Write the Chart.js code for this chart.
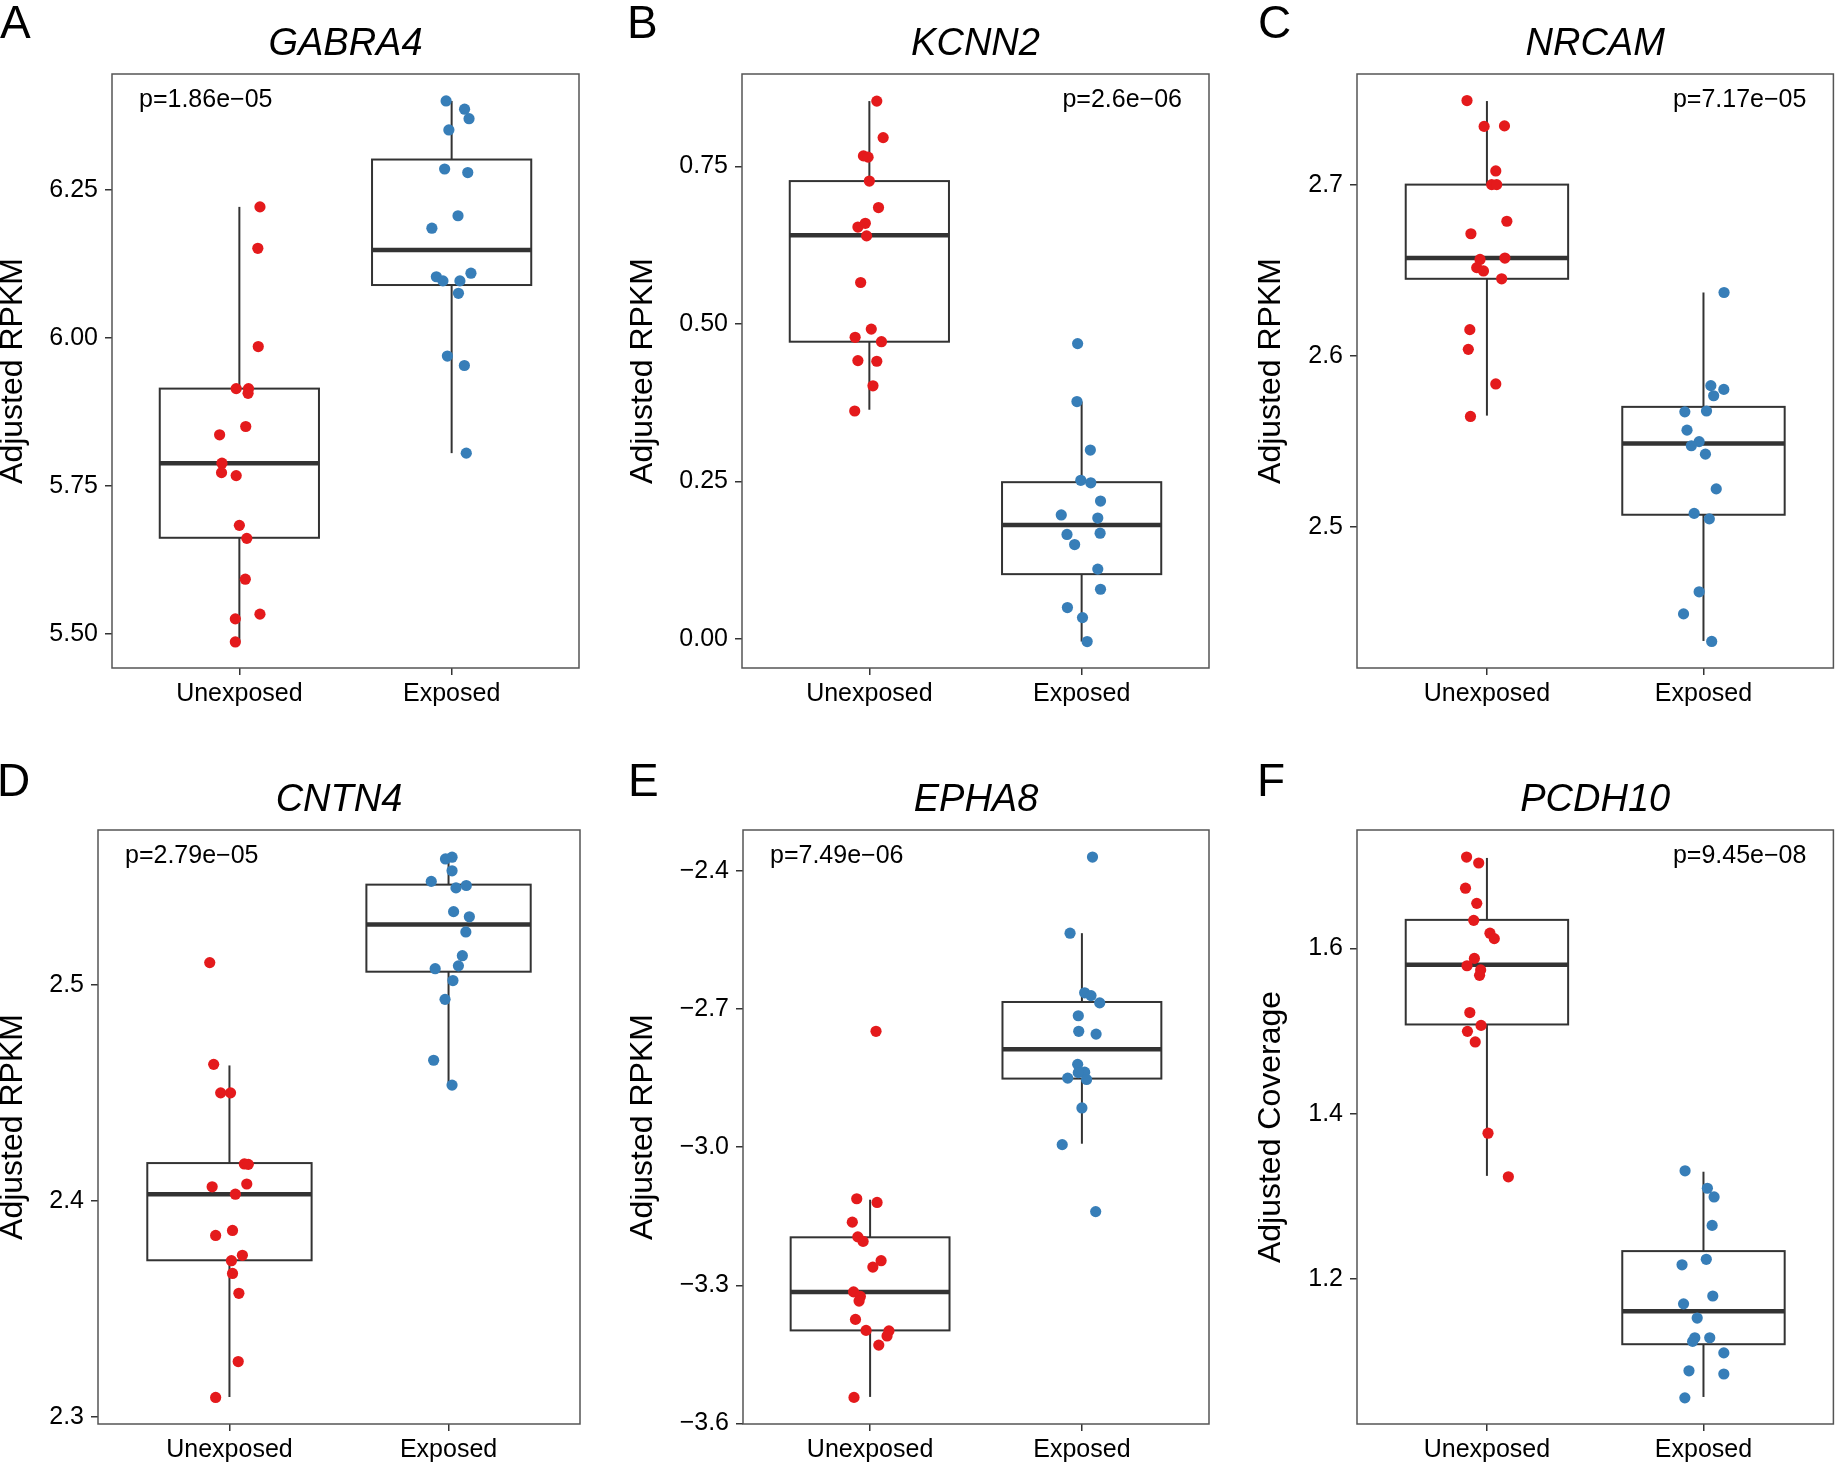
<!DOCTYPE html>
<html lang="en">
<head>
<meta charset="UTF-8" />
<title>Adjusted expression by exposure</title>
<script src="https://cdn.jsdelivr.net/npm/chart.js"></script>
<style>
  body { margin: 0; background: #fff; }
  #page { position: relative; width: 1839px; height: 1463px; overflow: hidden; }
  canvas { position: absolute; }
</style>
</head>
<body>
<div id="page">
  <canvas id="panel-0" width="613" height="731" style="left:0;top:0"></canvas>
  <canvas id="panel-1" width="613" height="731" style="left:630px;top:0"></canvas>
  <canvas id="panel-2" width="581" height="731" style="left:1258px;top:0"></canvas>
  <canvas id="panel-3" width="613" height="732" style="left:0;top:731px"></canvas>
  <canvas id="panel-4" width="613" height="732" style="left:630px;top:731px"></canvas>
  <canvas id="panel-5" width="581" height="732" style="left:1258px;top:731px"></canvas>
</div>
<script>
// groups on the x axis
const groups = ["Unexposed", "Exposed"];
const genes = ["GABRA4", "KCNN2", "NRCAM", "CNTN4", "EPHA8", "PCDH10"];
const letters = ["A", "B", "C", "D", "E", "F"];
const pValues = ["p=1.86e\u221205", "p=2.6e\u221206", "p=7.17e\u221205", "p=2.79e\u221205", "p=7.49e\u221206", "p=9.45e\u221208"];
const pSide = ["left", "right", "right", "left", "left", "right"];
const yTitles = ["Adjusted RPKM", "Adjusted RPKM", "Adjusted RPKM", "Adjusted RPKM", "Adjusted RPKM", "Adjusted Coverage"];

// y axis limits and ticks
const yMin = [5.442, -0.046, 2.4177, 2.2968, -3.601, 1.0247];
const yMax = [6.4455, 0.897, 2.7646, 2.5718, -2.3114, 1.7431];
const yTicks = [
  [5.5, 5.75, 6.0, 6.25],
  [0, 0.25, 0.5, 0.75],
  [2.5, 2.6, 2.7],
  [2.3, 2.4, 2.5],
  [-3.6, -3.3, -3.0, -2.7, -2.4],
  [1.2, 1.4, 1.6]
];
const yTickLabels = [
  ["5.50", "5.75", "6.00", "6.25"],
  ["0.00", "0.25", "0.50", "0.75"],
  ["2.5", "2.6", "2.7"],
  ["2.3", "2.4", "2.5"],
  ["\u22123.6", "\u22123.3", "\u22123.0", "\u22122.7", "\u22122.4"],
  ["1.2", "1.4", "1.6"]
];

// box stats per group: [lower whisker, q1, median, q3, upper whisker]
const gabra4Box = [[5.486, 5.662, 5.788, 5.914, 6.221], [5.805, 6.089, 6.148, 6.301, 6.400]];
const kcnn2Box = [[0.364, 0.472, 0.641, 0.727, 0.854], [-0.004, 0.103, 0.181, 0.249, 0.377]];
const nrcamBox = [[2.5651, 2.6450, 2.6571, 2.7000, 2.7488], [2.4335, 2.5072, 2.5488, 2.5702, 2.6370]];
const cntn4Box = [[2.3093, 2.3726, 2.4032, 2.4176, 2.4628], [2.4537, 2.5062, 2.5280, 2.5465, 2.5590]];
const epha8Box = [[-3.5422, -3.3978, -3.3142, -3.1957, -3.114], [-2.9925, -2.8511, -2.7874, -2.6848, -2.5354]];
const pcdh10Box = [[1.3248, 1.5079, 1.58, 1.6344, 1.7093], [1.0574, 1.1212, 1.1612, 1.2338, 1.3298]];

// jittered points [x, value]
const gabra4Unexposed = [[1.097,6.221],[1.087,6.151],[1.089,5.985],[0.985,5.914],[1.043,5.914],[1.041,5.906],[1.030,5.850],[0.907,5.836],[0.918,5.788],[0.916,5.772],[0.985,5.767],[1.000,5.683],[1.035,5.661],[1.028,5.592],[0.981,5.525],[1.097,5.533],[0.981,5.486]];
const gabra4Exposed = [[1.974,6.400],[2.061,6.386],[2.082,6.370],[1.987,6.351],[1.967,6.285],[2.076,6.279],[2.030,6.206],[1.907,6.185],[1.928,6.103],[1.959,6.096],[2.039,6.096],[2.091,6.109],[2.032,6.075],[1.980,5.969],[2.060,5.953],[2.069,5.805]];
const kcnn2Unexposed = [[1.035,0.854],[1.065,0.796],[0.972,0.767],[0.994,0.765],[1.000,0.727],[1.043,0.685],[0.946,0.654],[0.981,0.660],[0.987,0.640],[0.959,0.566],[1.009,0.492],[0.933,0.479],[1.057,0.472],[0.946,0.442],[1.035,0.441],[1.017,0.402],[0.931,0.362]];
const kcnn2Exposed = [[1.981,0.469],[1.978,0.377],[2.041,0.300],[1.996,0.252],[2.043,0.248],[2.089,0.219],[1.904,0.197],[2.076,0.192],[1.931,0.166],[2.087,0.168],[1.967,0.150],[2.076,0.111],[2.089,0.079],[1.933,0.050],[2.004,0.034],[2.026,-0.004]];
const nrcamUnexposed = [[0.908,2.7491],[0.987,2.7340],[1.081,2.7343],[1.041,2.7080],[1.022,2.7000],[1.045,2.7000],[1.092,2.6786],[0.926,2.6713],[0.968,2.6563],[1.083,2.6571],[0.953,2.6515],[0.984,2.6496],[1.068,2.6450],[0.921,2.6153],[0.914,2.6038],[1.041,2.5836],[0.924,2.5646]];
const nrcamExposed = [[2.095,2.6370],[2.034,2.5826],[2.094,2.5804],[2.047,2.5767],[1.914,2.5673],[2.014,2.5678],[1.924,2.5566],[1.980,2.5499],[1.944,2.5475],[2.009,2.5426],[2.059,2.5223],[1.957,2.5080],[2.027,2.5048],[1.980,2.4622],[1.908,2.4493],[2.038,2.4332]];
const cntn4Unexposed = [[0.910,2.5104],[0.928,2.4633],[0.960,2.4501],[1.005,2.4501],[1.068,2.4172],[1.086,2.4170],[0.921,2.4066],[1.079,2.4079],[1.027,2.4032],[1.014,2.3864],[0.937,2.3841],[1.059,2.3749],[1.009,2.3724],[1.014,2.3665],[1.043,2.3573],[1.040,2.3257],[0.937,2.3091]];
const cntn4Exposed = [[2.016,2.5592],[1.986,2.5584],[2.016,2.5529],[1.921,2.5480],[2.034,2.5450],[2.081,2.5461],[2.023,2.5340],[2.095,2.5316],[2.079,2.5246],[2.063,2.5136],[2.045,2.5089],[1.939,2.5076],[2.020,2.5021],[1.984,2.4934],[1.932,2.4652],[2.016,2.4537]];
const epha8Unexposed = [[1.028,-2.7485],[0.937,-3.112],[1.033,-3.120],[0.916,-3.1628],[0.942,-3.1947],[0.967,-3.2046],[1.052,-3.2464],[1.013,-3.2604],[0.922,-3.3142],[0.954,-3.3241],[0.948,-3.3341],[0.931,-3.3739],[0.981,-3.3978],[1.089,-3.3988],[1.080,-3.4098],[1.041,-3.4297],[0.924,-3.5432]];
const epha8Exposed = [[2.050,-2.3701],[1.944,-2.5354],[2.013,-2.6649],[2.043,-2.6709],[2.084,-2.6868],[1.983,-2.7147],[1.985,-2.7485],[2.067,-2.7545],[1.980,-2.8202],[2.013,-2.8372],[1.983,-2.8382],[1.933,-2.8501],[2.022,-2.8531],[2.000,-2.9148],[1.907,-2.9945],[2.065,-3.1399]];
const pcdh10Unexposed = [[0.906,1.7104],[0.962,1.7032],[0.901,1.6727],[0.953,1.6544],[0.939,1.6338],[1.014,1.6183],[1.034,1.6117],[0.942,1.5878],[0.908,1.5789],[0.971,1.5739],[0.966,1.5673],[0.921,1.5223],[0.973,1.5068],[0.910,1.4996],[0.946,1.4868],[1.005,1.3764],[1.099,1.3237]];
const pcdh10Exposed = [[1.915,1.3309],[2.018,1.3098],[2.049,1.2993],[2.040,1.2649],[2.013,1.2239],[1.901,1.2172],[2.043,1.1795],[1.908,1.1700],[1.971,1.1528],[1.960,1.1290],[1.950,1.1246],[2.029,1.1290],[2.094,1.1107],[1.933,1.0890],[2.094,1.0852],[1.914,1.0563]];

const boxes = [gabra4Box, kcnn2Box, nrcamBox, cntn4Box, epha8Box, pcdh10Box];
const unexposedPts = [gabra4Unexposed, kcnn2Unexposed, nrcamUnexposed, cntn4Unexposed, epha8Unexposed, pcdh10Unexposed];
const exposedPts = [gabra4Exposed, kcnn2Exposed, nrcamExposed, cntn4Exposed, epha8Exposed, pcdh10Exposed];

// panel geometry inside each canvas
const layout = [
  { yWidth: 112, padRight: 34, padTop: 74, xHeight: 63, letterX: 0, letterY: 37.5 },
  { yWidth: 112, padRight: 34, padTop: 74, xHeight: 63, letterX: -3, letterY: 37.5 },
  { yWidth: 99, padRight: 1, padTop: 74, xHeight: 63, letterX: 0, letterY: 37.5 },
  { yWidth: 98, padRight: 33, padTop: 99, xHeight: 39, letterX: -3, letterY: 64.5 },
  { yWidth: 113, padRight: 34, padTop: 99, xHeight: 39, letterX: -2, letterY: 64.5 },
  { yWidth: 99, padRight: 1, padTop: 99, xHeight: 39, letterX: -1, letterY: 64.5 }
];

const RED = "#E41A1C";
const BLUE = "#377EB8";
const FONT = "'Liberation Sans', Arial, Helvetica, sans-serif";
Chart.defaults.font.family = FONT;
Chart.defaults.color = "#000";

function line(ctx, x0, y0, x1, y1) {
  ctx.beginPath();
  ctx.moveTo(x0, y0);
  ctx.lineTo(x1, y1);
  ctx.stroke();
}

// boxplots, panel frame and panel texts
const boxPlugin = {
  id: "boxes",
  beforeDatasetsDraw(chart, args, opts) {
    const { ctx, chartArea: a, scales: { x, y } } = chart;
    ctx.save();
    ctx.strokeStyle = "#333";
    opts.stats.forEach((s, i) => {
      const cx = x.getPixelForValue(i + 1);
      const x0 = x.getPixelForValue(i + 1 - 0.375);
      const x1 = x.getPixelForValue(i + 1 + 0.375);
      const [lo, q1, med, q3, hi] = s.map(v => y.getPixelForValue(v));
      ctx.lineWidth = 2;
      line(ctx, cx, hi, cx, q3);
      line(ctx, cx, q1, cx, lo);
      ctx.fillStyle = "#fff";
      ctx.fillRect(x0, q3, x1 - x0, q1 - q3);
      ctx.strokeRect(x0, q3, x1 - x0, q1 - q3);
      ctx.lineWidth = 4.5;
      line(ctx, x0, med, x1, med);
    });
    ctx.strokeStyle = "#555";
    ctx.lineWidth = 1.5;
    ctx.strokeRect(a.left, a.top, a.right - a.left, a.bottom - a.top);
    ctx.restore();
  },
  afterDraw(chart, args, opts) {
    const { ctx, chartArea: a } = chart;
    ctx.save();
    ctx.fillStyle = "#000";
    ctx.textBaseline = "alphabetic";
    ctx.font = "italic 38px " + FONT;
    ctx.textAlign = "center";
    ctx.fillText(opts.title, (a.left + a.right) / 2, a.top - 19);
    ctx.font = "25px " + FONT;
    if (opts.pSide === "left") {
      ctx.textAlign = "left";
      ctx.fillText(opts.p, a.left + 27, a.top + 33);
    } else {
      ctx.textAlign = "right";
      ctx.fillText(opts.p, a.right - 27, a.top + 33);
    }
    ctx.font = "46px " + FONT;
    ctx.textAlign = "left";
    ctx.fillText(opts.letter, opts.letterX, opts.letterY);
    ctx.restore();
  }
};

genes.forEach((gene, k) => {
  const L = layout[k];
  const tickGrid = { drawOnChartArea: false, drawTicks: true, tickLength: 7, color: "#333", lineWidth: 1.5 };
  new Chart(document.getElementById("panel-" + k), {
    type: "scatter",
    data: {
      datasets: [
        { data: unexposedPts[k].map(p => ({ x: p[0], y: p[1] })), backgroundColor: RED, borderWidth: 0, pointRadius: 5.6 },
        { data: exposedPts[k].map(p => ({ x: p[0], y: p[1] })), backgroundColor: BLUE, borderWidth: 0, pointRadius: 5.6 }
      ]
    },
    options: {
      responsive: false,
      animation: false,
      devicePixelRatio: 1,
      layout: { padding: { top: L.padTop, right: L.padRight, left: 0, bottom: 0 } },
      plugins: {
        legend: { display: false },
        tooltip: { enabled: false },
        boxes: { stats: boxes[k], title: gene, p: pValues[k], pSide: pSide[k], letter: letters[k], letterX: L.letterX, letterY: L.letterY }
      },
      scales: {
        x: {
          type: "linear",
          min: 0.4,
          max: 2.6,
          afterBuildTicks: s => { s.ticks = [{ value: 1 }, { value: 2 }]; },
          afterFit: s => { s.height = L.xHeight; },
          ticks: { callback: (v, i) => groups[i], font: { size: 25 }, color: "#000", padding: 4, autoSkip: false, maxRotation: 0 },
          grid: tickGrid,
          border: { display: false }
        },
        y: {
          min: yMin[k],
          max: yMax[k],
          afterBuildTicks: s => { s.ticks = yTicks[k].map(v => ({ value: v })); },
          afterFit: s => { s.width = L.yWidth; },
          ticks: { callback: (v, i) => yTickLabels[k][i], font: { size: 25 }, color: "#000", padding: 7, autoSkip: false },
          grid: tickGrid,
          border: { display: false },
          title: { display: true, text: yTitles[k], font: { size: 32, lineHeight: 0.85 }, padding: 0, color: "#000" }
        }
      }
    },
    plugins: [boxPlugin]
  });
});
</script>
</body>
</html>
